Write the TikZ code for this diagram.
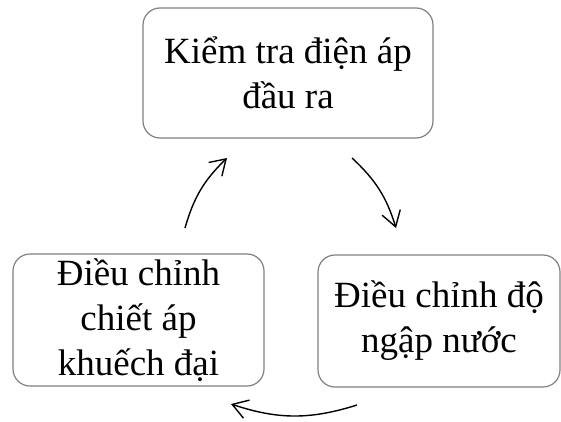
\documentclass[tikz,border=0pt]{standalone}
\usepackage{fontspec}
\setmainfont{Liberation Serif}
\usetikzlibrary{arrows.meta}
\begin{document}
\begin{tikzpicture}[x=1pt,y=1pt,
  stepbox/.style={draw=black!50, line width=1.2pt, rounded corners=17pt,
    align=center, inner sep=0pt, font=\fontsize{37}{45}\selectfont},
  cyc/.style={line width=1.4pt, -{Straight Barb[length=15pt,width=19pt,line width=1.4pt]}}]
\useasboundingbox (0,0) rectangle (561,421);
\node[stepbox, minimum width=290pt, minimum height=130pt] (check) at (288,348)
  {Kiểm tra điện áp\\đầu ra};
\node[stepbox, minimum width=251pt, minimum height=132pt] (gain) at (138.5,101)
  {Điều chỉnh\\chiết áp\\khuếch đại};
\node[stepbox, minimum width=242pt, minimum height=132pt] (water) at (439,100)
  {Điều chỉnh độ\\ngập nước};
\coordinate (a1s) at (185,193);
\coordinate (a1e) at (227,263);
\coordinate (a2s) at (352,263);
\coordinate (a2e) at (396,193);
\coordinate (a3s) at (357,16);
\coordinate (a3e) at (231,17);
\draw[cyc] (a1s) to[bend left=15] (a1e);
\draw[cyc] (a2s) to[bend left=15] (a2e);
\draw[cyc] (a3s) to[bend left=18] (a3e);
\end{tikzpicture}
\end{document}
